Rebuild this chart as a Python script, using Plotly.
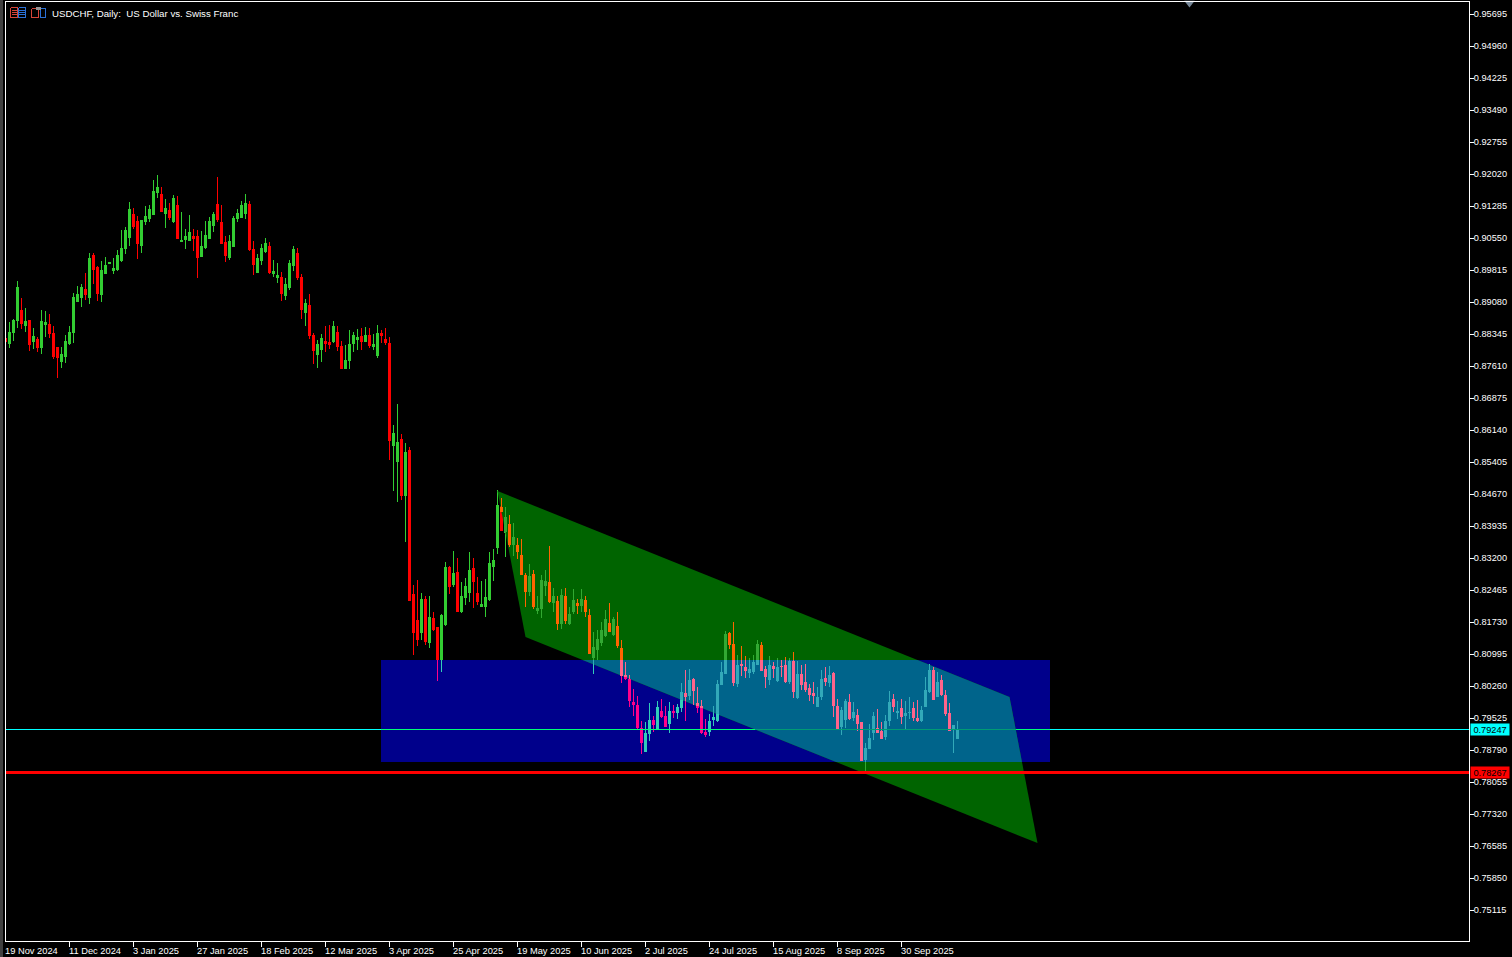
import plotly.graph_objects as go

TITLE = "USDCHF, Daily:  US Dollar vs. Swiss Franc"
DATE_LABELS = ["19 Nov 2024", "11 Dec 2024", "3 Jan 2025", "27 Jan 2025", "18 Feb 2025", "12 Mar 2025",
               "3 Apr 2025", "25 Apr 2025", "19 May 2025", "10 Jun 2025", "2 Jul 2025", "24 Jul 2025",
               "15 Aug 2025", "8 Sep 2025", "30 Sep 2025"]
BARS_PER_DATE_LABEL = 16

OPEN = [
    .88253, .88116, .88391, .88644, .88896, .88529, .88644, .88162, .88230, .88024,
    .88552, .88552, .88368, .88024, .87702, .87817, .88116, .88391, .89103, .89172,
    .89356, .89172, .90137, .89884, .89241, .89746, .89953, .89815, .89838, .90022,
    .90320, .90573, .91101, .90918, .90389, .90918, .90987, .91101, .91584, .91538,
    .91124, .91193, .90918, .91308, .90481, .90527, .90504, .90596, .90596, .90114,
    .90343, .90550, .90826, .91331, .90895, .90458, .90091, .90366, .90987, .91010,
    .91124, .91331, .90275, .89769, .90022, .90229, .90366, .89746, .89654, .89654,
    .89218, .89402, .89907, .90183, .89654, .88828, .89011, .88322, .87863, .87978,
    .88184, .88139, .88162, .88391, .88047, .87564, .87725, .88116, .88230, .88299,
    .88184, .88322, .88047, .87840, .88368, .88230, .88116, .85773, .85406, .85911,
    .84625, .85658, .82351, .81754, .81478, .82236, .81248, .81800, .81593, .80858,
    .81662, .82971, .82580, .82856, .81960, .82282, .82397, .82948, .82374, .82075,
    .82075, .82236, .82994, .83430, .84372, .83797, .83981, .83499, .83499, .83269,
    .82810, .82419, .82833, .81983, .82029, .82557, .82649, .82167, .82213, .81684,
    .82327, .81684, .81960, .82167, .82098, .82236, .81891, .80903, .81087, .81248,
    .81409, .81707, .81432, .81638, .81133, .80513, .80421, .79893, .79824, .79296,
    .78745, .79158, .79480, .79273, .79686, .79571, .79388, .79686, .79640, .79755,
    .80100, .80031, .80421, .79870, .79801, .79204, .79204, .79480, .79457, .80283,
    .80536, .81478, .81225, .80306, .80766, .80697, .80559, .80582, .80743, .81202,
    .80651, .80398, .80720, .80375, .80720, .80743, .80352, .80835, .79985, .80536,
    .80352, .80214, .80099, .79778, .80008, .80444, .80329, .80559, .79801, .79318,
    .79479, .79893, .79525, .79594, .79433, .78561, .78813, .79181, .79295, .79227,
    .79089, .79456, .79962, .79640, .79755, .79571, .79640, .79755, .79525, .79456,
    .79778, .80122, .80628, .80008, .80398, .80053, .79640, .79250, .79043,
]
HIGH = [
    .88265, .88621, .88690, .89563, .89172, .88942, .88667, .88483, .88276, .88896,
    .88874, .88805, .88529, .88024, .88047, .88322, .88529, .89287, .89448, .89494,
    .89746, .90206, .90206, .89907, .90022, .90114, .89976, .90091, .90275, .90734,
    .90803, .91377, .91239, .91055, .90964, .91285, .91308, .91882, .91997, .91722,
    .91446, .91354, .91538, .91515, .91147, .90757, .91078, .90757, .90734, .90711,
    .90941, .91033, .91147, .91951, .91308, .90596, .90619, .91055, .91216, .91400,
    .91561, .91400, .90481, .90183, .90412, .90550, .90458, .90045, .89976, .89769,
    .89631, .90045, .90366, .90320, .89723, .89149, .89264, .88368, .88207, .88345,
    .88529, .88552, .88644, .88529, .88184, .88093, .88437, .88391, .88460, .88483,
    .88506, .88483, .88345, .88552, .88437, .88483, .88277, .86255, .86738, .86049,
    .85842, .85750, .82580, .82695, .82397, .82328, .82328, .81960, .81616, .81914,
    .83109, .83017, .83361, .83201, .82649, .82741, .83338, .83201, .82764, .82672,
    .82718, .83338, .83407, .84762, .84578, .84372, .84188, .84004, .83660, .83637,
    .82856, .83062, .82925, .82327, .82810, .82925, .83476, .82511, .82327, .82488,
    .82511, .82075, .82488, .82258, .82488, .82327, .82029, .81501, .81546, .81730,
    .82006, .82167, .81845, .81960, .81317, .80812, .80513, .80191, .80031, .79456,
    .79433, .79870, .79571, .79916, .79962, .79801, .79893, .79824, .79847, .80329,
    .80628, .80651, .80444, .80237, .79939, .79502, .79617, .79801, .80398, .80812,
    .81524, .81501, .81730, .80972, .81179, .80949, .80904, .80972, .81317, .81271,
    .80720, .80949, .80812, .80904, .80858, .80927, .80904, .81041, .80835, .80743,
    .80766, .80306, .80352, .80237, .80628, .80697, .80720, .80582, .79962, .79778,
    .79962, .80076, .79893, .79732, .79433, .78951, .79387, .79663, .79732, .79433,
    .79594, .80145, .80076, .79916, .79962, .79916, .80008, .79893, .79939, .79801,
    .80467, .80765, .80697, .80582, .80513, .80168, .79870, .79364, .79456,
]
LOW = [
    .88150, .88024, .88184, .88483, .88460, .88391, .87955, .88001, .87932, .87886,
    .88276, .88253, .87771, .87335, .87564, .87679, .88093, .88139, .89103, .88965,
    .89126, .89034, .89494, .89103, .89080, .89723, .89953, .89723, .89792, .89999,
    .90183, .90366, .90757, .90068, .90206, .90849, .90918, .91078, .91469, .91170,
    .90780, .90964, .90895, .90527, .90481, .90298, .90481, .90252, .89631, .90114,
    .90298, .90550, .90688, .90918, .90435, .89999, .90045, .90366, .90918, .91010,
    .90987, .90252, .89700, .89746, .89930, .90206, .89723, .89654, .89517, .89103,
    .89126, .89356, .89792, .89586, .88690, .88529, .88230, .87656, .87564, .87702,
    .87932, .88001, .88139, .87955, .87564, .87541, .87541, .87932, .87978, .87978,
    .88184, .88024, .87978, .87794, .88139, .88093, .85451, .84739, .84487, .84533,
    .83568, .82213, .80973, .81179, .81317, .81202, .81133, .81524, .80376, .80582,
    .81639, .82374, .82535, .81960, .81937, .82121, .82190, .82052, .82121, .82075,
    .81845, .82213, .82672, .83292, .83843, .83223, .83453, .83246, .83177, .82810,
    .82075, .82327, .82029, .81914, .81822, .82327, .82167, .81960, .81546, .81569,
    .81684, .81661, .81914, .81914, .81960, .81845, .80995, .80536, .80857, .81179,
    .81386, .81501, .81409, .81133, .80329, .80398, .79778, .79571, .79273, .78698,
    .78744, .78997, .79204, .79273, .79525, .79319, .79181, .79525, .79502, .79663,
    .79457, .79939, .79824, .79640, .79158, .79089, .79112, .79342, .79434, .80283,
    .80536, .81110, .80260, .80237, .80490, .80444, .80444, .80536, .80743, .80605,
    .80214, .80283, .80444, .80352, .80467, .80329, .80306, .79985, .79962, .80169,
    .80120, .79916, .79847, .79778, .79939, .80260, .80237, .79548, .79273, .79135,
    .79295, .79479, .79456, .79227, .78538, .78308, .78813, .79020, .79181, .79043,
    .79020, .79341, .79663, .79502, .79387, .79273, .79502, .79456, .79433, .79433,
    .79778, .80099, .79939, .80008, .80030, .79571, .79227, .78721, .79043,
]
CLOSE = [
    .88162, .88391, .88644, .89402, .88575, .88621, .88093, .88299, .88024, .88621,
    .88598, .88368, .87817, .87794, .87863, .88184, .88391, .89172, .89241, .89402,
    .89241, .90068, .89838, .89264, .89815, .89907, .89976, .89861, .90137, .90320,
    .90711, .91216, .90803, .90435, .90941, .91055, .91216, .91607, .91699, .91170,
    .91239, .91010, .91446, .90550, .90504, .90596, .90665, .90550, .90091, .90366,
    .90619, .90918, .91101, .90964, .90435, .90137, .90481, .90987, .91124, .91308,
    .91354, .90275, .89930, .90068, .90320, .90435, .89769, .89792, .89700, .89264,
    .89471, .89953, .90275, .89654, .88919, .89057, .88322, .87955, .88093, .88253,
    .88116, .88093, .88506, .88047, .87564, .87725, .88093, .88322, .88276, .88184,
    .88322, .88070, .88093, .88368, .88322, .88139, .85888, .86049, .85842, .84625,
    .85612, .82213, .81478, .81317, .82236, .81271, .81823, .81547, .80858, .81868,
    .82971, .82535, .82833, .81960, .82305, .82535, .82902, .82649, .82190, .82121,
    .82282, .83063, .83132, .84417, .83843, .84142, .83499, .83683, .83338, .82810,
    .82419, .82787, .82075, .82052, .82695, .82672, .82190, .82327, .81684, .82350,
    .81753, .81914, .82236, .82098, .82258, .81960, .80995, .81156, .81340, .81546,
    .81799, .81501, .81799, .81179, .80498, .80421, .79916, .79824, .79296, .78951,
    .79181, .79480, .79365, .79778, .79548, .79319, .79686, .79640, .79778, .80123,
    .80008, .80398, .80146, .79755, .79181, .79135, .79457, .79548, .80306, .80582,
    .81455, .81202, .80329, .80743, .80720, .80605, .80651, .80812, .81225, .80605,
    .80467, .80743, .80651, .80697, .80697, .80352, .80835, .80123, .80536, .80283,
    .80169, .80053, .80030, .80008, .80421, .80352, .80513, .79801, .79273, .79709,
    .79916, .79502, .79663, .79387, .78538, .78836, .79066, .79571, .79181, .79043,
    .79456, .79893, .79778, .79686, .79548, .79640, .79663, .79525, .79456, .79709,
    .80168, .80628, .79939, .80352, .80053, .79617, .79227, .79364, .79273,
]

# Objects on the chart, as (bar number, price)
ZONE_BARS = (93.875, 261.125)
ZONE_PRICES = (0.78514, 0.80857)
CHANNEL = [(123, 0.84739), (251, 0.80007), (258, 0.76653), (130, 0.81385)]
BID_TAG = "0.79247"
BID_PRICE = 0.79260
SUPPORT_TAG = "0.78267"
SUPPORT_PRICE = 0.78267
AXIS_TOP_TICK = 0.95695
AXIS_STEP = 0.00735
AXIS_TICKS = 29
MARKER_BAR = 296
MARKER_PRICE = 0.95945

UP = (50, 205, 50)
DOWN = (255, 0, 0)
CYAN = (0, 255, 255)
BLUE = (0, 0, 139)
GREEN = (0, 100, 0)


def xor(a, b):
    return tuple(p ^ q for p, q in zip(a, b))


def rgb(c):
    return f"rgb({c[0]},{c[1]},{c[2]})"


def in_zone(x, y):
    return ZONE_BARS[0] <= x <= ZONE_BARS[1] and ZONE_PRICES[0] <= y <= ZONE_PRICES[1]


def in_channel(x, y):
    inside = False
    n = len(CHANNEL)
    for k in range(n):
        x1, y1 = CHANNEL[k]
        x2, y2 = CHANNEL[(k + 1) % n]
        if (y1 > y) != (y2 > y) and x < x1 + (y - y1) * (x2 - x1) / (y2 - y1):
            inside = not inside
    return inside


def channel_prices_at(x):
    out = []
    n = len(CHANNEL)
    for k in range(n):
        x1, y1 = CHANNEL[k]
        x2, y2 = CHANNEL[(k + 1) % n]
        if x1 != x2 and min(x1, x2) <= x <= max(x1, x2):
            out.append(y1 + (x - x1) * (y2 - y1) / (x2 - x1))
    return out


def channel_bars_at(y):
    out = []
    n = len(CHANNEL)
    for k in range(n):
        x1, y1 = CHANNEL[k]
        x2, y2 = CHANNEL[(k + 1) % n]
        if (y1 > y) != (y2 > y):
            out.append(x1 + (y - y1) * (x2 - x1) / (y2 - y1))
    return out


def region(x, y):
    """Background colour under a point, or None for the bare chart."""
    z, c = in_zone(x, y), in_channel(x, y)
    if z and c:
        return xor(BLUE, GREEN)
    if z:
        return BLUE
    if c:
        return GREEN
    return None


def clip_channel_to_zone():
    poly = list(CHANNEL)
    edges = [(0, ZONE_BARS[0], 1), (0, ZONE_BARS[1], -1), (1, ZONE_PRICES[0], 1), (1, ZONE_PRICES[1], -1)]
    for axis, limit, sign in edges:
        result = []
        for k, p in enumerate(poly):
            q = poly[(k + 1) % len(poly)]
            pin = (p[axis] - limit) * sign >= 0
            qin = (q[axis] - limit) * sign >= 0
            if pin:
                result.append(p)
            if pin != qin:
                t = (limit - p[axis]) / (q[axis] - p[axis])
                result.append((p[0] + t * (q[0] - p[0]), p[1] + t * (q[1] - p[1])))
        poly = result
    return poly


def filled(points, color):
    xs = [p[0] for p in points] + [points[0][0]]
    ys = [p[1] for p in points] + [points[0][1]]
    return go.Scatter(x=xs, y=ys, mode="lines", fill="toself", fillcolor=rgb(color),
                      line=dict(width=0), hoverinfo="skip", showlegend=False)


def pieces(x, lo, hi):
    cuts = [lo, hi]
    if ZONE_BARS[0] <= x <= ZONE_BARS[1]:
        cuts += [p for p in ZONE_PRICES if lo < p < hi]
    cuts += [p for p in channel_prices_at(x) if lo < p < hi]
    cuts = sorted(set(cuts))
    for a, b in zip(cuts, cuts[1:]):
        yield a, b, region(x, (a + b) / 2)


wick_groups, body_groups = {}, {}
for i in range(len(OPEN)):
    base = UP if CLOSE[i] >= OPEN[i] else DOWN
    for a, b, bg in pieces(i, LOW[i], HIGH[i]):
        if bg is not None:
            g = wick_groups.setdefault(rgb(xor(base, bg)), ([], []))
            g[0].extend([i, i, None])
            g[1].extend([a, b, None])
    for a, b, bg in pieces(i, min(OPEN[i], CLOSE[i]), max(OPEN[i], CLOSE[i])):
        if bg is not None:
            g = body_groups.setdefault(rgb(xor(base, bg)), ([], []))
            g[0].extend([i, i, None])
            g[1].extend([a, b, None])

fig = go.Figure()
zone_pts = [(ZONE_BARS[0], ZONE_PRICES[0]), (ZONE_BARS[1], ZONE_PRICES[0]),
            (ZONE_BARS[1], ZONE_PRICES[1]), (ZONE_BARS[0], ZONE_PRICES[1])]
fig.add_trace(filled(zone_pts, BLUE))
fig.add_trace(filled(CHANNEL, GREEN))
fig.add_trace(filled(clip_channel_to_zone(), xor(BLUE, GREEN)))

fig.add_trace(go.Candlestick(
    x=list(range(len(OPEN))), open=OPEN, high=HIGH, low=LOW, close=CLOSE,
    increasing=dict(line=dict(color=rgb(UP), width=1), fillcolor=rgb(UP)),
    decreasing=dict(line=dict(color=rgb(DOWN), width=1), fillcolor=rgb(DOWN)),
    whiskerwidth=0, hoverinfo="skip", showlegend=False))

for color, (xs, ys) in wick_groups.items():
    fig.add_trace(go.Scatter(x=xs, y=ys, mode="lines", line=dict(color=color, width=1, simplify=False),
                             hoverinfo="skip", showlegend=False))
for color, (xs, ys) in body_groups.items():
    fig.add_trace(go.Scatter(x=xs, y=ys, mode="lines", line=dict(color=color, width=3, simplify=False),
                             hoverinfo="skip", showlegend=False))

X_RANGE = [0.125, 365.875]
bid_cuts = sorted(set([X_RANGE[0], X_RANGE[1], *ZONE_BARS, *channel_bars_at(BID_PRICE)]))
for a, b in zip(bid_cuts, bid_cuts[1:]):
    bg = region((a + b) / 2, BID_PRICE)
    c = CYAN if bg is None else xor(CYAN, bg)
    fig.add_trace(go.Scatter(x=[a, b], y=[BID_PRICE, BID_PRICE], mode="lines",
                             line=dict(color=rgb(c), width=1), hoverinfo="skip", showlegend=False))

fig.add_trace(go.Scatter(x=list(X_RANGE), y=[SUPPORT_PRICE, SUPPORT_PRICE], mode="lines",
                         line=dict(color=rgb(DOWN), width=3), hoverinfo="skip", showlegend=False))

fig.add_trace(go.Scatter(x=[MARKER_BAR], y=[MARKER_PRICE], mode="markers", cliponaxis=False,
                         marker=dict(symbol="triangle-down", size=9, color="rgb(119,136,153)", line=dict(width=0)),
                         hoverinfo="skip", showlegend=False))

W, H = 1512, 957
L, R, T, B = 6, 1469, 2, 941
S = AXIS_STEP / 32
Y_RANGE = [AXIS_TOP_TICK - (B - 14) * S, AXIS_TOP_TICK + (14 - T) * S]
FONT = "Liberation Sans"
y_ticks = [round(AXIS_TOP_TICK - k * AXIS_STEP, 5) for k in range(AXIS_TICKS)]
x_ticks = [k * BARS_PER_DATE_LABEL for k in range(len(DATE_LABELS))]


def px(x):
    return (x - L) / (R - L)


def py(y):
    return 1 - (y - T) / (B - T)


shapes = []


def pline(x0, y0, x1, y1, color):
    shapes.append(dict(type="line", xref="paper", yref="paper", x0=px(x0), y0=py(y0), x1=px(x1), y1=py(y1),
                       line=dict(color=color, width=1), layer="above"))


def pbox(x0, y0, x1, y1, color):
    for (a, b, c, d) in [(x0, y0, x1, y0), (x0, y1, x1, y1), (x0, y0, x0, y1), (x1, y0, x1, y1)]:
        pline(a, b, c, d, color)


ICON_RED, ICON_BLUE = "rgb(214,69,57)", "rgb(43,113,214)"
# toolbar icon 1: two panels with rows
pbox(10.5, 7.5, 17.5, 17.5, ICON_RED)
pbox(18.5, 7.5, 25.5, 17.5, ICON_BLUE)
for yy in (10.5, 12.5, 14.5):
    pline(12, yy, 17, yy, ICON_RED)
    pline(19, yy, 25, yy, ICON_BLUE)
# toolbar icon 2: two panels and a grey clip
pbox(31.5, 8.5, 38.5, 17.5, ICON_RED)
pbox(40.5, 8.5, 45.5, 17.5, ICON_BLUE)
shapes.append(dict(type="rect", xref="paper", yref="paper", x0=px(36), y0=py(7), x1=px(41), y1=py(10),
                   fillcolor="rgb(150,150,150)", line=dict(width=0), layer="above"))
# first date tick, which sits just left of the plot area
shapes.append(dict(type="line", xref="x", yref="paper", x0=0, x1=0, y0=0, y1=-5 / (B - T),
                   line=dict(color="white", width=1), layer="above"))
# grey strip at the window's left edge
shapes.append(dict(type="rect", xref="paper", yref="paper", x0=px(0), x1=px(3), y0=py(H), y1=py(0),
                   fillcolor="rgb(64,64,64)", line=dict(width=0), layer="above"))

annotations = [dict(xref="paper", yref="paper", x=px(50), y=py(13), xanchor="left", yanchor="middle",
                    text=TITLE, showarrow=False, font=dict(family=FONT, size=9.7, color="white"))]
for tick, label in zip(x_ticks, DATE_LABELS):
    first = tick < X_RANGE[0]
    annotations.append(dict(xref="x", yref="paper", x=X_RANGE[0] if first else tick, y=py(951), xanchor="left",
                            yanchor="middle", xshift=-3.5 if first else -3, text=label, showarrow=False,
                            font=dict(family=FONT, size=9.3, color="white")))
for price, tag, bg in [(BID_PRICE, BID_TAG, "rgb(0,255,255)"), (SUPPORT_PRICE, SUPPORT_TAG, "rgb(255,0,0)")]:
    annotations.append(dict(xref="x", yref="y", x=X_RANGE[1], xshift=1, y=price, xanchor="left", yanchor="middle",
                            text=tag, showarrow=False, bgcolor=bg, width=38, height=11, borderpad=0, align="center",
                            font=dict(family=FONT, size=9.2, color="black")))

fig.update_layout(
    width=W, height=H, autosize=False, paper_bgcolor="black", plot_bgcolor="black",
    margin=dict(l=L, r=W - R, t=T, b=H - B, pad=0, autoexpand=False), showlegend=False, hovermode=False, dragmode=False,
    shapes=shapes, annotations=annotations,
    xaxis=dict(type="linear", range=X_RANGE, rangeslider=dict(visible=False), showgrid=False, zeroline=False,
               showline=True, linecolor="white", linewidth=1, mirror=True, ticks="outside", ticklen=5,
               tickcolor="white", tickwidth=1, tickmode="array", tickvals=x_ticks, ticktext=[""] * len(x_ticks)),
    yaxis=dict(side="right", range=Y_RANGE, showgrid=False, zeroline=False, showline=True, linecolor="white",
               linewidth=1, mirror=True, ticks="outside", ticklen=4, tickcolor="white", tickwidth=1,
               ticklabelstandoff=-2, tickmode="array", tickvals=y_ticks, ticktext=[f"{v:.5f}" for v in y_ticks],
               tickfont=dict(family=FONT, size=9.2, color="white")),
)

POST = """
document.body.style.margin='0';document.body.style.overflow='hidden';document.body.style.background='black';
document.querySelectorAll('.scatterlayer .js-line, .boxlayer path, .shapelayer path').forEach(function(p){p.style.shapeRendering='crispEdges';});
"""
fig.write_html("out.html", config={"displayModeBar": False, "staticPlot": True}, post_script=POST)
